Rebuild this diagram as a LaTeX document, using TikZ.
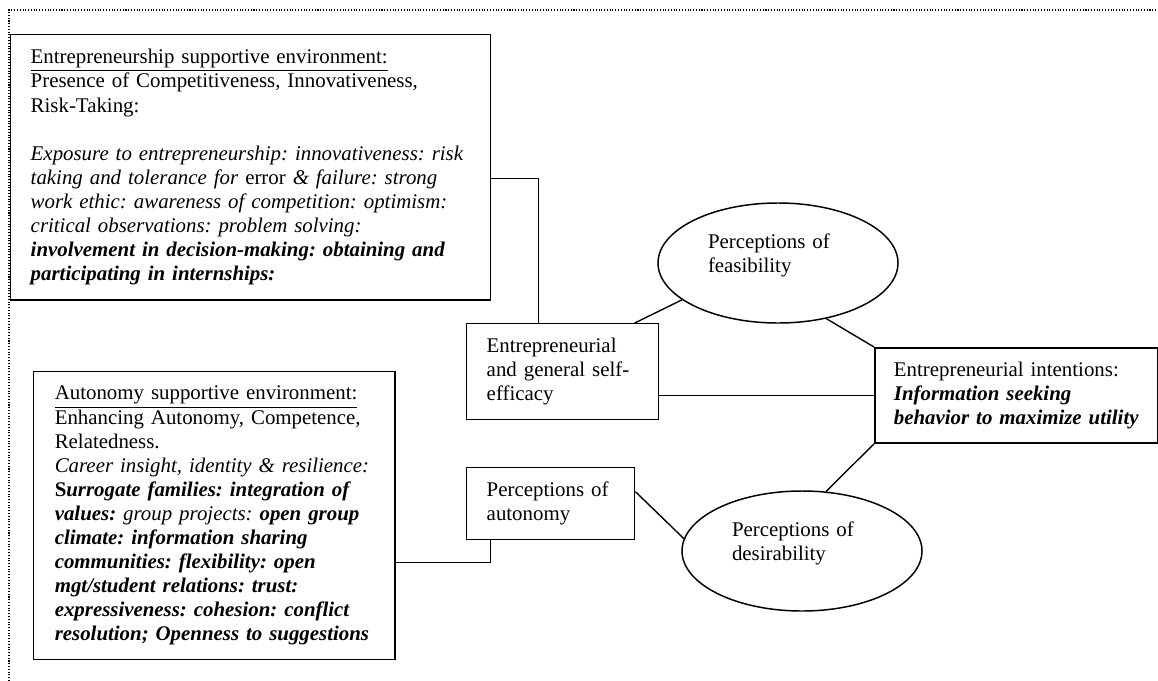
\documentclass[tikz,border=0pt]{standalone}
\usepackage{fontspec}
\setmainfont{Liberation Serif}
\usetikzlibrary{shapes.geometric}
\frenchspacing

\begin{document}
\begin{tikzpicture}[x=0.575pt, y=-0.575pt,
		every node/.style={font=\fontsize{12pt}{13.85pt}\selectfont,
			execute at begin node={\rightskip=0pt plus 1fil minus 30pt\relax}},
		box/.style={draw, line width=0.85pt, anchor=north west, inner ysep=0pt},
		blob/.style={draw, ellipse, line width=0.85pt, inner sep=0pt,
			minimum width=138pt, minimum height=69pt, text width=80.5pt, text depth=25pt},
		link/.style={line width=0.8pt}]
		\useasboundingbox (0,0) rectangle (1158,681);

		% Draw the dotted frame
		\draw[densely dotted, line width=0.6pt] (9,681) -- (9,10) -- (1158,10);

		% Draw the two environment boxes
		\node[box, text width=253pt, inner xsep=11.5pt, minimum height=152.4pt] (envbox) at (10,34) {%
			\underline{Entrepreneurship supportive environment:}\\
			Presence of Competitiveness, Innovativeness,\\
			Risk-Taking:\\[13.85pt]
			\textit{Exposure to entrepreneurship: innovativeness: risk}\\
			\textit{taking and tolerance for} error \textit{\& failure: strong}\\
			\textit{work ethic: awareness of competition: optimism:}\\
			\textit{critical observations: problem solving:}\\
			\textbf{\textit{involvement in decision-making: obtaining and}}\\
			\textbf{\textit{participating in internships:}}};

		\node[box, text width=183.4pt, inner xsep=12.1pt, minimum height=165.6pt] (autbox) at (33,371) {%
			\underline{Autonomy supportive environment:}\\
			Enhancing Autonomy, Competence,\\
			Relatedness.\\
			\textit{Career insight, identity \& resilience:}\\
			\textbf{S\textit{urrogate families: integration of}}\\
			\textbf{\textit{values:}} \textit{group projects:} \textbf{\textit{open group}}\\
			\textbf{\textit{climate: information sharing}}\\
			\textbf{\textit{communities: flexibility: open}}\\
			\textbf{\textit{mgt/student relations: trust:}}\\
			\textbf{\textit{expressiveness: cohesion: conflict}}\\
			\textbf{\textit{resolution; Openness to suggestions}}};

		% Draw the middle boxes
		\node[box, text width=87.4pt, inner xsep=11.5pt, minimum height=55.2pt] (effbox) at (466,323)
			{Entrepreneurial\\ and general self-\\ efficacy};
		\node[box, text width=73.6pt, inner xsep=11.5pt, minimum height=41.4pt] (autpbox) at (466,467)
			{Perceptions of\\ autonomy};

		% Draw the perceptions
		\node[blob] (feas) at (778,263) {Perceptions of\\ feasibility};
		\node[blob] (desi) at (802,551) {Perceptions of\\ desirability};

		% Draw the outcome box
		\node[box, line width=1.1pt, text width=140.9pt, inner xsep=10.9pt, minimum height=54.6pt] (intbox) at (874,347)
			{Entrepreneurial intentions:\\ \textbf{\textit{Information seeking}}\\ \textbf{\textit{behavior to maximize utility}}};

		% Draw the links
		\draw[link] ([yshift=-6.6pt]envbox.east) -| ([xshift=-13.8pt]effbox.north);
		\draw[link] ([yshift=-27pt]autbox.east) -| ([xshift=-34.5pt]autpbox.south);
		\draw[link] ([xshift=41.4pt]effbox.north) -- (feas.201);
		\draw[link] (effbox.east |- intbox.west) -- (intbox.west);
		\draw[link] (feas.311) -- (intbox.north west);
		\draw[link] ([yshift=6.9pt]autpbox.east) -- (desi.174);
		\draw[link] (desi.68) -- (intbox.south west);

	\end{tikzpicture}
\end{document}
